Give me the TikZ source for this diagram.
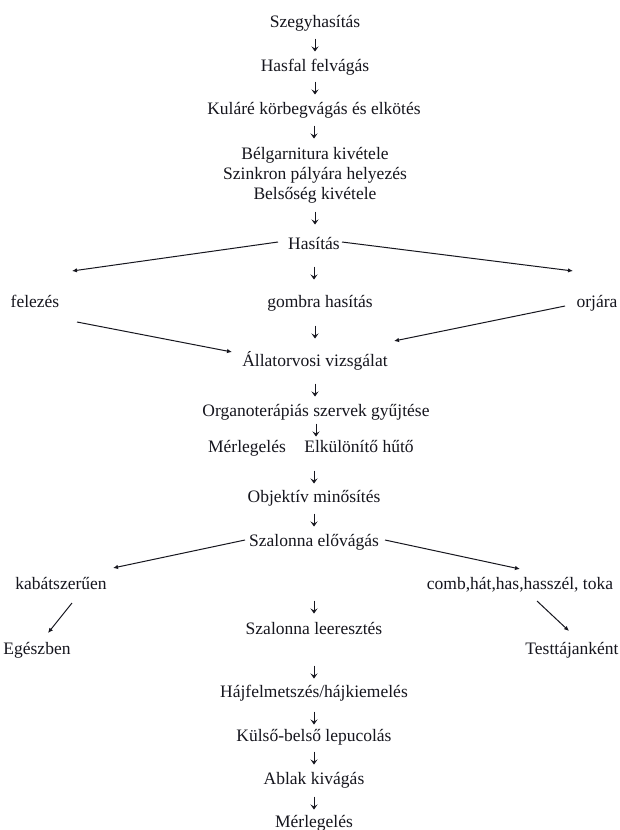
\documentclass[tikz,border=0pt]{standalone}
\usepackage{fontspec}
\setmainfont{Liberation Serif}
\usetikzlibrary{arrows.meta,calc}
\definecolor{ink}{HTML}{16161E}
\newcommand\dnarrow[2]{\draw[darr] ($(#1.center)+(0,#2-6.5)$) -- ($(#1.center)+(0,#2+6.5)$);}
\begin{document}
\begin{tikzpicture}[x=1pt,y=-1pt,
  txt/.style={inner sep=1pt,text height=12pt,text depth=4pt,font=\fontsize{17.5pt}{20pt}\selectfont,text=ink},
  darr/.style={draw=ink,line width=1pt,-{Stealth[length=5pt,width=7pt,inset=2pt]}},
  sarr/.style={draw=ink,line width=1pt,-{Latex[length=5pt,width=4.5pt]}}]
\fill[white] (0,0) rectangle (620,830);
\useasboundingbox (0,0) rectangle (620,830);

% main column
\node[txt] (szeg) at (315,23) {Szegyhasítás};
\node[txt] (hasf) at (315,67) {Hasfal felvágás};
\node[txt] (kul)  at (314,110) {Kuláré körbegvágás és elkötés};
\node[txt] (bel1) at (315,155) {Bélgarnitura kivétele};
\node[txt] (bel2) at (315,175) {Szinkron pályára helyezés};
\node[txt] (bel3) at (315,195) {Belsőség kivétele};
\node[txt] (has)  at (314,245) {Hasítás};
\node[txt] (fel)  at (35,303) {felezés};
\node[txt] (gomb) at (320,303) {gombra hasítás};
\node[txt] (orj)  at (597,303) {orjára};
\node[txt] (all)  at (315,362) {Állatorvosi vizsgálat};
\node[txt] (org)  at (316,412) {Organoterápiás szervek gyűjtése};
\node[txt] (mer1) at (247,448) {Mérlegelés};
\node[txt] (elk)  at (359,448) {Elkülönítő hűtő};
\node[txt] (obj)  at (314,498) {Objektív minősítés};
\node[txt] (sze)  at (314,542) {Szalonna elővágás};
\node[txt] (kab)  at (61,585) {kabátszerűen};
\node[txt] (comb) at (520,585) {comb,hát,has,hasszél, toka};
\node[txt] (lee)  at (314,630) {Szalonna leeresztés};
\node[txt] (egesz) at (37,650) {Egészben};
\node[txt] (test) at (572,650) {Testtájanként};
\node[txt] (haj)  at (314,693) {Hájfelmetszés/hájkiemelés};
\node[txt] (kuls) at (314,737) {Külső-belső lepucolás};
\node[txt] (abl)  at (314,780) {Ablak kivágás};
\node[txt] (mer2) at (314,823) {Mérlegelés};

% down arrows (glyph-like)
\dnarrow{szeg}{22}
\dnarrow{hasf}{21}
\dnarrow{kul}{22}
\dnarrow{bel3}{23}
\dnarrow{has}{28}
\dnarrow{all}{-30}
\dnarrow{all}{28}
\dnarrow{org}{18}
\dnarrow{obj}{-21}
\dnarrow{obj}{22}
\dnarrow{lee}{-23}
\dnarrow{haj}{-21}
\dnarrow{haj}{25}
\dnarrow{kuls}{21}
\dnarrow{abl}{23}

% slanted connectors
\coordinate (hasL) at (278,242);
\coordinate (hasR) at (342,242);
\coordinate (felT) at (72,271);
\coordinate (orjT) at (573,271);
\coordinate (felB) at (77,322);
\coordinate (orjB) at (565,306);
\coordinate (allL) at (232,352);
\coordinate (allR) at (394,341);
\coordinate (szeL) at (245,540);
\coordinate (szeR) at (385,540);
\coordinate (kabT) at (113,568);
\coordinate (combT) at (520,569);
\coordinate (kabB) at (72,603);
\coordinate (egT) at (48,633);
\coordinate (combB) at (537,601);
\coordinate (testT) at (569,631);

\draw[sarr] (hasL) -- (felT);
\draw[sarr] (hasR) -- (orjT);
\draw[sarr] (felB) -- (allL);
\draw[sarr] (orjB) -- (allR);
\draw[sarr] (szeL) -- (kabT);
\draw[sarr] (szeR) -- (combT);
\draw[sarr] (kabB) -- (egT);
\draw[sarr] (combB) -- (testT);
\end{tikzpicture}
\end{document}
